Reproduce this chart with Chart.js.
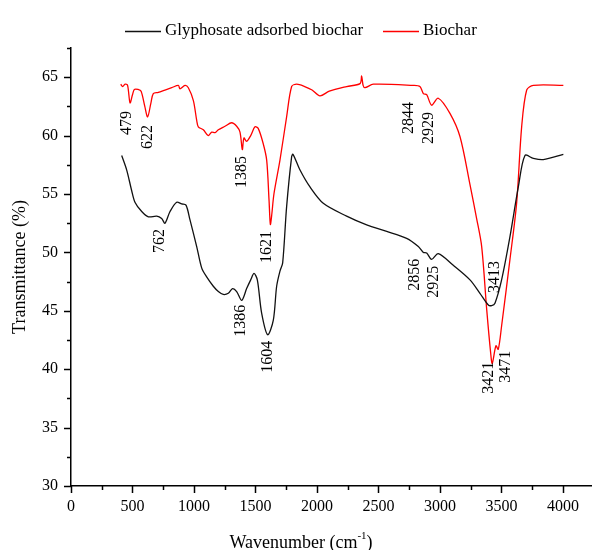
<!DOCTYPE html>
<html>
<head>
<meta charset="utf-8">
<script src="https://cdn.jsdelivr.net/npm/chart.js@4.4.1/dist/chart.umd.min.js"></script>
<style>
  html, body { margin: 0; padding: 0; background: #fff; }
  #wrap { width: 592px; height: 550px; }
</style>
</head>
<body>
<div id="wrap"><canvas id="ftirChart" width="592" height="550"></canvas></div>
<script>
// Spectres FTIR
const seriesNames = ['Glyphosate adsorbed biochar', 'Biochar'];

const blackX = [412, 453, 493, 520, 575, 629, 697, 737, 764, 805, 859, 900, 935, 967, 1022, 1063, 1103, 1157, 1198, 1238, 1279, 1314, 1347, 1388, 1428, 1461, 1488, 1515, 1550, 1599, 1645, 1672, 1699, 1721, 1753, 1794, 1805, 1862, 1943, 2051, 2241, 2404, 2567, 2729, 2824, 2865, 2892, 2932, 2986, 3108, 3244, 3325, 3393, 3420, 3447, 3501, 3569, 3637, 3691, 3759, 3840, 4003];
const blackY = [58.3, 57.05, 55.3, 54.3, 53.5, 53.05, 53.1, 52.9, 52.5, 53.5, 54.3, 54.15, 54.05, 52.8, 50.5, 48.65, 47.9, 47.1, 46.65, 46.4, 46.5, 46.9, 46.65, 45.9, 46.9, 47.65, 48.2, 47.65, 44.8, 42.95, 44.2, 47.1, 48.4, 49.1, 53.9, 58.2, 58.4, 57.05, 55.6, 54.2, 53.1, 52.35, 51.8, 51.2, 50.5, 50.0, 49.95, 49.4, 49.9, 48.9, 47.65, 46.5, 45.5, 45.45, 45.65, 47.65, 51.35, 55.6, 58.3, 58.05, 57.95, 58.4];

const redX = [404, 420, 440, 460, 480, 500, 515, 545, 570, 600, 623, 650, 669, 710, 764, 819, 873, 886, 927, 954, 995, 1022, 1035, 1076, 1116, 1144, 1171, 1198, 1252, 1306, 1347, 1374, 1393, 1406, 1428, 1461, 1496, 1523, 1563, 1591, 1610, 1621, 1632, 1650, 1699, 1753, 1794, 1835, 1900, 1960, 2024, 2100, 2241, 2350, 2363, 2375, 2390, 2458, 2783, 2837, 2865, 2892, 2932, 2986, 3081, 3163, 3244, 3298, 3339, 3380, 3412, 3425, 3455, 3474, 3501, 3569, 3623, 3664, 3705, 3759, 4003];
const redY = [64.4, 64.2, 64.4, 64.3, 62.8, 63.5, 63.95, 63.95, 63.8, 62.5, 61.6, 62.8, 63.6, 63.7, 63.9, 64.1, 64.3, 64.0, 64.3, 64.1, 63.0, 61.3, 60.75, 60.5, 60.0, 60.3, 60.25, 60.5, 60.8, 61.1, 60.8, 60.3, 58.8, 59.8, 59.5, 60.0, 60.75, 60.6, 59.3, 57.9, 54.5, 52.4, 53.2, 55.0, 57.9, 61.6, 64.2, 64.4, 64.2, 63.9, 63.4, 63.8, 64.2, 64.45, 65.1, 64.3, 64.1, 64.4, 64.3, 64.2, 63.6, 63.5, 62.6, 63.2, 61.9, 59.9, 55.8, 52.9, 50.5, 45.1, 41.4, 40.5, 42.0, 41.7, 43.7, 49.4, 54.2, 60.75, 63.9, 64.3, 64.3];

// Etiquettes des pics (texte vertical)
const peakLabels = ['479', '622', '1385', '762', '1621', '1386', '1604', '2844', '2929', '2856', '2925', '3413', '3421', '3471'];
const peakX = [455, 626, 1390, 724, 1593, 1382, 1602, 2748, 2911, 2797, 2951, 3447, 3398, 3537];
const peakY = [61.07, 59.87, 56.88, 50.98, 50.47, 44.15, 41.07, 61.5, 60.64, 48.08, 47.48, 47.9, 39.27, 40.21];

const xTicks = [0, 500, 1000, 1500, 2000, 2500, 3000, 3500, 4000];
const yTicks = [30, 35, 40, 45, 50, 55, 60, 65];

const serif = "'Liberation Serif', 'Times New Roman', serif";

function toPoints(xs, ys) {
    return xs.map((x, i) => ({ x: x, y: ys[i] }));
}

// Graduations, etiquettes, legende et titres des axes
const decorPlugin = {
    id: 'decor',
    afterDraw(chart) {
        const ctx = chart.ctx;
        const xs = chart.scales.x;
        const ys = chart.scales.y;
        const area = chart.chartArea;
        ctx.save();
        ctx.strokeStyle = '#000';
        ctx.lineWidth = 1.5;

        // graduations X (majeures 500, mineures 250)
        for (let v = 0; v <= 4000; v += 250) {
            const px = Math.round(xs.getPixelForValue(v)) + 0.5;
            const len = v % 500 === 0 ? 7 : 4;
            ctx.beginPath();
            ctx.moveTo(px, area.bottom);
            ctx.lineTo(px, area.bottom + len);
            ctx.stroke();
        }
        // graduations Y
        for (let v = 30; v <= 67.5; v += 2.5) {
            const py = Math.round(ys.getPixelForValue(v)) + 0.5;
            const len = v % 5 === 0 ? 7 : 4;
            ctx.beginPath();
            ctx.moveTo(area.left, py);
            ctx.lineTo(area.left - len, py);
            ctx.stroke();
        }

        // etiquettes des pics
        ctx.fillStyle = '#000';
        ctx.font = '16px ' + serif;
        ctx.textAlign = 'center';
        ctx.textBaseline = 'middle';
        peakLabels.forEach((lbl, i) => {
            ctx.save();
            ctx.translate(xs.getPixelForValue(peakX[i]), ys.getPixelForValue(peakY[i]));
            ctx.rotate(-Math.PI / 2);
            ctx.fillText(lbl, 0, 0);
            ctx.restore();
        });

        // legende
        const colors = chart.data.datasets.map(d => d.borderColor);
        const legendX = [125, 383];
        ctx.font = '17px ' + serif;
        ctx.textAlign = 'left';
        seriesNames.forEach((name, i) => {
            ctx.strokeStyle = colors[i];
            ctx.lineWidth = 1.5;
            ctx.beginPath();
            ctx.moveTo(legendX[i], 31.5);
            ctx.lineTo(legendX[i] + 36, 31.5);
            ctx.stroke();
            ctx.fillText(name, legendX[i] + 40, 31);
        });

        // titre axe Y
        ctx.font = '18px ' + serif;
        ctx.save();
        ctx.translate(20, 267);
        ctx.rotate(-Math.PI / 2);
        ctx.textAlign = 'center';
        ctx.fillText('Transmittance (%)', 0, 0);
        ctx.restore();

        // titre axe X avec exposant
        const a = 'Wavenumber (cm', sup = '-1', b = ')';
        ctx.font = '18px ' + serif;
        const wa = ctx.measureText(a).width;
        const wb = ctx.measureText(b).width;
        ctx.font = '11px ' + serif;
        const ws = ctx.measureText(sup).width;
        let x0 = 301 - (wa + ws + wb) / 2;
        ctx.font = '18px ' + serif;
        ctx.fillText(a, x0, 543);
        ctx.font = '11px ' + serif;
        ctx.fillText(sup, x0 + wa, 536);
        ctx.font = '18px ' + serif;
        ctx.fillText(b, x0 + wa + ws, 543);

        ctx.restore();
    }
};

const ctx = document.getElementById('ftirChart').getContext('2d');
const chart = new Chart(ctx, {
    type: 'line',
    data: {
        datasets: [{
            label: seriesNames[0],
            data: toPoints(blackX, blackY),
            borderColor: '#111111',
            borderWidth: 1.3,
            pointRadius: 0,
            tension: 0.3,
            fill: false
        }, {
            label: seriesNames[1],
            data: toPoints(redX, redY),
            borderColor: '#ff0000',
            borderWidth: 1.3,
            pointRadius: 0,
            tension: 0.3,
            fill: false
        }]
    },
    options: {
        responsive: false,
        animation: false,
        layout: { padding: { top: 48, right: 0, left: 0, bottom: 0 } },
        plugins: {
            legend: { display: false },
            tooltip: { enabled: false }
        },
        scales: {
            x: {
                type: 'linear',
                min: 0,
                max: 4236,
                afterFit: s => { s.height = 64; },
                afterBuildTicks: s => { s.ticks = xTicks.map(v => ({ value: v })); },
                grid: { display: false, drawTicks: false },
                border: { display: true, color: '#000', width: 1.5 },
                ticks: {
                    color: '#000',
                    padding: 11,
                    maxRotation: 0,
                    font: { family: serif, size: 16 },
                    callback: v => String(v)
                }
            },
            y: {
                min: 30,
                max: 67.5,
                afterFit: s => { s.width = 71; },
                afterBuildTicks: s => { s.ticks = yTicks.map(v => ({ value: v })); },
                grid: { display: false, drawTicks: false },
                border: { display: true, color: '#000', width: 1.5 },
                ticks: {
                    color: '#000',
                    padding: 13,
                    font: { family: serif, size: 16 },
                    callback: v => String(v)
                }
            }
        }
    },
    plugins: [decorPlugin]
});
</script>
</body>
</html>
